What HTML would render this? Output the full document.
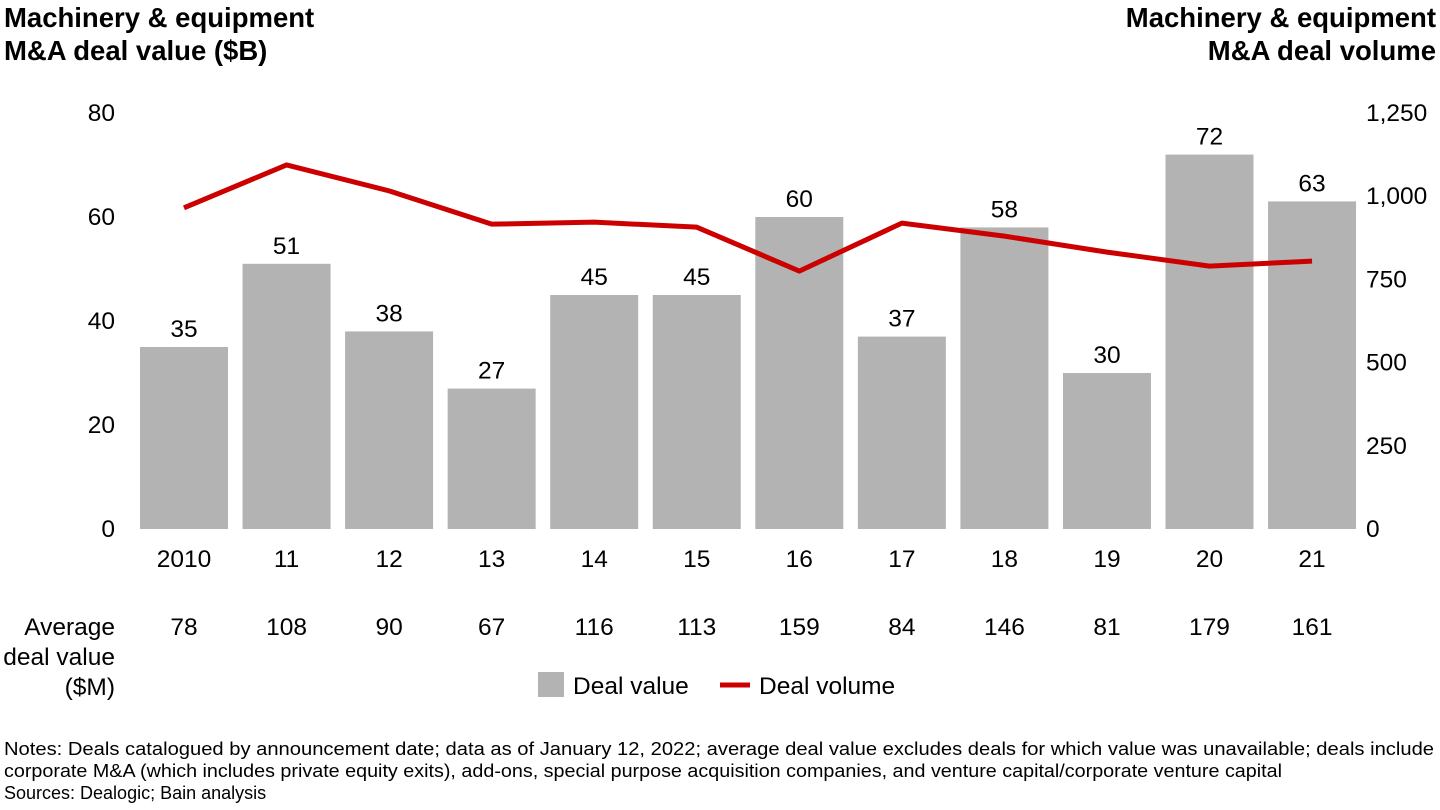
<!DOCTYPE html>
<html><head><meta charset="utf-8"><style>
body{margin:0;width:1440px;height:810px;background:#fff;font-family:"Liberation Sans",Arial,sans-serif;overflow:hidden}
svg{display:block}
</style></head><body>
<svg width="1440" height="810" id="c">
<text x="4" y="27" font-size="27.5" font-weight="bold">Machinery &amp; equipment</text>
<text x="4" y="60" font-size="27.5" font-weight="bold">M&amp;A deal value ($B)</text>
<text x="1436" y="27" font-size="27.5" font-weight="bold" text-anchor="end">Machinery &amp; equipment</text>
<text x="1436" y="60" font-size="27.5" font-weight="bold" text-anchor="end">M&amp;A deal volume</text>
<g id="left"></g>
<g id="right"></g>
<g id="bars"></g>
<g id="line"></g>
<g id="xl"></g>
<g id="avg"></g>
<text x="115" y="635" font-size="24.5" text-anchor="end">Average</text>
<text x="115" y="665" font-size="24.5" text-anchor="end">deal value</text>
<text x="115" y="695" font-size="24.5" text-anchor="end">($M)</text>
<g>
<rect x="538" y="672" width="26" height="25" fill="#b3b3b3"/>
<text x="573" y="694" font-size="24.5">Deal value</text>
<line x1="720" y1="685" x2="750" y2="685" stroke="#cc0000" stroke-width="5"/>
<text x="759" y="694" font-size="24.5">Deal volume</text>
</g>
<text x="4" y="755" font-size="18" textLength="1430" lengthAdjust="spacingAndGlyphs">Notes: Deals catalogued by announcement date; data as of January 12, 2022; average deal value excludes deals for which value was unavailable; deals include</text>
<text x="4" y="777" font-size="18" textLength="1278" lengthAdjust="spacingAndGlyphs">corporate M&amp;A (which includes private equity exits), add-ons, special purpose acquisition companies, and venture capital/corporate venture capital</text>
<text x="4" y="799" font-size="18">Sources: Dealogic; Bain analysis</text>
</svg>
<script>
const categories=["2010","11","12","13","14","15","16","17","18","19","20","21"];
const dealValue=[35,51,38,27,45,45,60,37,58,30,72,63];
const dealVolume=[965,1094,1016,916,922,907,775,919,880,832,790,805];
const avgDealValue=[78,108,90,67,116,113,159,84,146,81,179,161];
const leftTicks=[0,20,40,60,80];
const rightTicks=[0,250,500,750,1000,1250];
const rightTickLabels=["0","250","500","750","1,000","1,250"];
const NS="http://www.w3.org/2000/svg";
const plotTop=113,plotBot=529;
const yL=v=>plotBot-(v/80)*(plotBot-plotTop);
const yR=v=>plotBot-(v/1250)*(plotBot-plotTop);
const xC=i=>184+i*102.55;
const bw=88;
function mk(p,tag,a,txt){const e=document.createElementNS(NS,tag);for(const k in a)e.setAttribute(k,a[k]);if(txt!=null)e.textContent=txt;document.getElementById(p).appendChild(e);return e;}
leftTicks.forEach(t=>{const e=mk("left","text",{x:115,y:yL(t)+8,"font-size":24.5,"text-anchor":"end"},t);

});
rightTicks.forEach((t,i)=>{const e=mk("right","text",{x:1366,y:yR(t)+8,"font-size":24.5},rightTickLabels[i]);

});
categories.forEach((c,i)=>{
const b=mk("bars","rect",{x:xC(i)-bw/2,y:yL(dealValue[i]),width:bw,height:plotBot-yL(dealValue[i]),fill:"#b3b3b3"});


const l=mk("bars","text",{x:xC(i),y:yL(dealValue[i])-10,"font-size":24.5,"text-anchor":"middle"},dealValue[i]);


const x=mk("xl","text",{x:xC(i),y:567,"font-size":24.5,"text-anchor":"middle"},c);


const a=mk("avg","text",{x:xC(i),y:635,"font-size":24.5,"text-anchor":"middle"},avgDealValue[i]);


});
const pl=mk("line","polyline",{points:dealVolume.map((v,i)=>xC(i)+","+yR(v)).join(" "),fill:"none",stroke:"#cc0000","stroke-width":5,"stroke-linejoin":"round"});


</script>
</body></html>
